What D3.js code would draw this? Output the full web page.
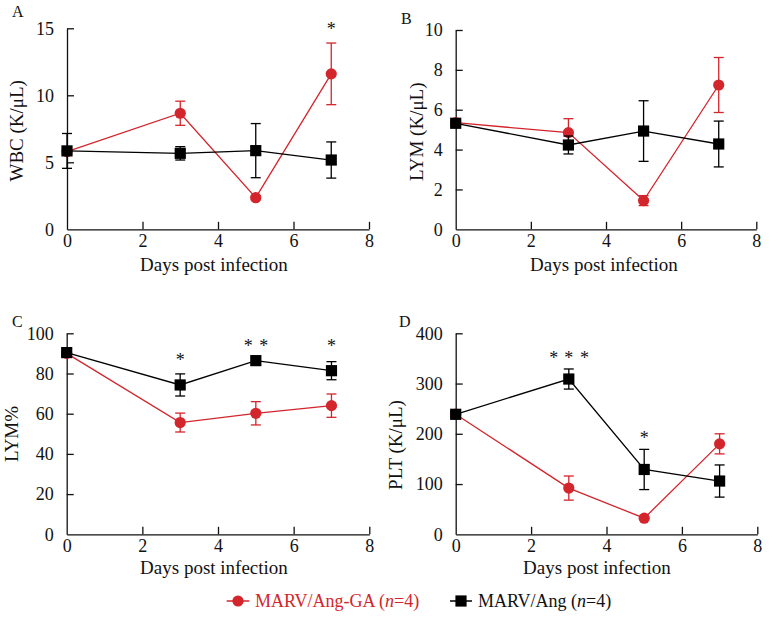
<!DOCTYPE html>
<html><head><meta charset="utf-8">
<script src="https://cdn.jsdelivr.net/npm/d3@7"></script>
<style>
html,body{margin:0;padding:0;background:#fff;}
svg{display:block;font-family:"Liberation Serif","Times New Roman",serif;}
</style></head>
<body>
<svg id="chart" width="771" height="620"></svg>
<script>
// ---------- data ----------
const days = [0, 3, 5, 7];
const xTicks = [0, 2, 4, 6, 8];
const seriesNames = ["MARV/Ang-GA", "MARV/Ang"];

// Panel A: WBC (K/µL)
const wbcGA = [5.8, 8.66, 2.36, 11.6];
const wbcGAsd = [0.0, 0.9, 0.15, 2.3];
const wbcAng = [5.85, 5.67, 5.87, 5.17];
const wbcAngSd = [1.3, 0.5, 2.02, 1.35];
const wbcTicks = [0, 5, 10, 15];

// Panel B: LYM (K/µL)
const lymGA = [5.35, 4.85, 1.44, 7.24];
const lymGAsd = [0.0, 0.7, 0.25, 1.38];
const lymAng = [5.32, 4.23, 4.93, 4.28];
const lymAngSd = [0.1, 0.45, 1.52, 1.15];
const lymTicks = [0, 2, 4, 6, 8, 10];

// Panel C: LYM%
const lympGA = [90.0, 55.6, 60.2, 64.0];
const lympGAsd = [1.0, 4.7, 5.8, 5.8];
const lympAng = [90.4, 74.3, 86.4, 81.4];
const lympAngSd = [1.0, 5.5, 1.5, 4.5];
const lympTicks = [0, 20, 40, 60, 80, 100];

// Panel D: PLT (K/µL)
const pltGA = [239, 92, 32, 180];
const pltGAsd = [5, 24, 3, 20];
const pltAng = [238.8, 309, 129, 106];
const pltAngSd = [5, 20, 40, 32];
const pltTicks = [0, 100, 200, 300, 400];

// ---------- layout ----------
const RED = "#d3252c";
const BLACK = "#000";
const svg = d3.select("#chart");

const panels = [
  {letter:"A", ylabel:"WBC (K/\u03bcL)", ga:wbcGA, gaSd:wbcGAsd, ang:wbcAng, angSd:wbcAngSd, ticks:wbcTicks,
   x0:67, x1:369, y0:229.3, y1:28.3, letterPos:[12,17], ylabPos:[23,130.8], xlabPos:[214,270.5],
   stars:[{day:7, text:"*", y:26.7, dx:[0]}]},
  {letter:"B", ylabel:"LYM (K/\u03bcL)", ga:lymGA, gaSd:lymGAsd, ang:lymAng, angSd:lymAngSd, ticks:lymTicks,
   x0:455.7, x1:756.3, y0:229.3, y1:30, letterPos:[401,23.5], ylabPos:[423,131.7], xlabPos:[604,270.7],
   stars:[]},
  {letter:"C", ylabel:"LYM%", ga:lympGA, gaSd:lympGAsd, ang:lympAng, angSd:lympAngSd, ticks:lympTicks,
   x0:66.7, x1:369.3, y0:534.3, y1:333.3, letterPos:[12,327], ylabPos:[18,434], xlabPos:[214,574],
   stars:[{day:3, y:357, dx:[0]}, {day:5, y:343, dx:[-7.7,8]}, {day:7, y:343, dx:[0]}]},
  {letter:"D", ylabel:"PLT (K/\u03bcL)", ga:pltGA, gaSd:pltGAsd, ang:pltAng, angSd:pltAngSd, ticks:pltTicks,
   x0:455.7, x1:757.3, y0:534.3, y1:333.3, letterPos:[399,327], ylabPos:[402,445], xlabPos:[597,574],
   stars:[{day:3, y:355, dx:[-15,0,15.6]}, {day:5, y:435, dx:[0]}]}
];

panels.forEach(p => {
  const x = d3.scaleLinear().domain([0, 8]).range([p.x0, p.x1]);
  const y = d3.scaleLinear().domain([0, d3.max(p.ticks)]).range([p.y0, p.y1]);
  const g = svg.append("g");

  // axes
  const xAxis = d3.axisBottom(x).tickValues(xTicks).tickSizeInner(-7.5).tickSizeOuter(0).tickPadding(5);
  const yAxis = d3.axisLeft(y).tickValues(p.ticks).tickSizeInner(-7).tickSizeOuter(0).tickPadding(13);
  const gx = g.append("g").attr("transform", `translate(0,${p.y0})`).call(xAxis);
  const gy = g.append("g").attr("transform", `translate(${p.x0},0)`).call(yAxis);
  [gx, gy].forEach(a => {
    a.selectAll("path,line").attr("stroke", "#111").attr("stroke-width", 1.3);
    a.selectAll("text").attr("font-size", 18).attr("fill", "#111")
      .attr("font-family", '"Liberation Serif","Times New Roman",serif');
  });
  gx.selectAll(".tick").filter(d => d === 0).select("line").remove();
  gy.selectAll(".tick").filter(d => d === 0).select("line").remove();

  // labels
  g.append("text").attr("x", p.letterPos[0]).attr("y", p.letterPos[1])
    .attr("font-size", 16).attr("fill", "#111").text(p.letter);
  g.append("text").attr("transform", `translate(${p.ylabPos[0]},${p.ylabPos[1]}) rotate(-90)`)
    .attr("text-anchor", "middle").attr("font-size", 19).attr("fill", "#111").text(p.ylabel);
  g.append("text").attr("x", p.xlabPos[0]).attr("y", p.xlabPos[1])
    .attr("text-anchor", "middle").attr("font-size", 19).attr("fill", "#111").text("Days post infection");

  // series
  const drawSeries = (vals, sds, color, shape) => {
    const pts = days.map((d, i) => ({d, v: vals[i], s: sds[i]}));
    g.append("path").datum(pts)
      .attr("d", d3.line().x(q => x(q.d)).y(q => y(q.v)))
      .attr("fill", "none").attr("stroke", color).attr("stroke-width", 1.3);
    const eb = g.append("g");
    pts.filter(q => q.s > 0).forEach(q => {
      const cx = x(q.d), ya = y(q.v + q.s), yb = y(q.v - q.s);
      eb.append("line").attr("x1", cx).attr("x2", cx).attr("y1", ya).attr("y2", yb)
        .attr("stroke", color).attr("stroke-width", 1.3);
      [ya, yb].forEach(yy => eb.append("line").attr("x1", cx - 5).attr("x2", cx + 5)
        .attr("y1", yy).attr("y2", yy).attr("stroke", color).attr("stroke-width", 1.3));
    });
    if (shape === "circle") {
      g.selectAll(null).data(pts).enter().append("circle")
        .attr("cx", q => x(q.d)).attr("cy", q => y(q.v)).attr("r", 5.6).attr("fill", color);
    } else {
      g.selectAll(null).data(pts).enter().append("rect")
        .attr("x", q => x(q.d) - 5.6).attr("y", q => y(q.v) - 5.6)
        .attr("width", 11.2).attr("height", 11.2).attr("fill", color);
    }
  };
  drawSeries(p.ga, p.gaSd, RED, "circle");
  drawSeries(p.ang, p.angSd, BLACK, "square");

  // significance stars
  p.stars.forEach(s => {
    s.dx.forEach(dx => {
      g.append("text").attr("x", x(s.day) + dx).attr("y", s.y + 8.5)
        .attr("text-anchor", "middle").attr("font-size", 18).attr("fill", "#111").text("*");
    });
  });
});

// ---------- legend ----------
const leg = svg.append("g");
const legY = 601;
// red
leg.append("line").attr("x1", 226.7).attr("x2", 249.3).attr("y1", legY).attr("y2", legY)
  .attr("stroke", RED).attr("stroke-width", 1.5);
leg.append("circle").attr("cx", 238).attr("cy", legY).attr("r", 5.6).attr("fill", RED);
const t1 = leg.append("text").attr("x", 255).attr("y", 607).attr("font-size", 18).attr("fill", RED);
t1.append("tspan").text(seriesNames[0] + " (");
t1.append("tspan").attr("font-style", "italic").text("n");
t1.append("tspan").text("=4)");
// black
leg.append("line").attr("x1", 450).attr("x2", 472).attr("y1", legY).attr("y2", legY)
  .attr("stroke", BLACK).attr("stroke-width", 1.5);
leg.append("rect").attr("x", 461 - 5.6).attr("y", legY - 5.6).attr("width", 11.2).attr("height", 11.2).attr("fill", BLACK);
const t2 = leg.append("text").attr("x", 478).attr("y", 607).attr("font-size", 18).attr("fill", "#111");
t2.append("tspan").text(seriesNames[1] + " (");
t2.append("tspan").attr("font-style", "italic").text("n");
t2.append("tspan").text("=4)");
</script>
</body></html>
